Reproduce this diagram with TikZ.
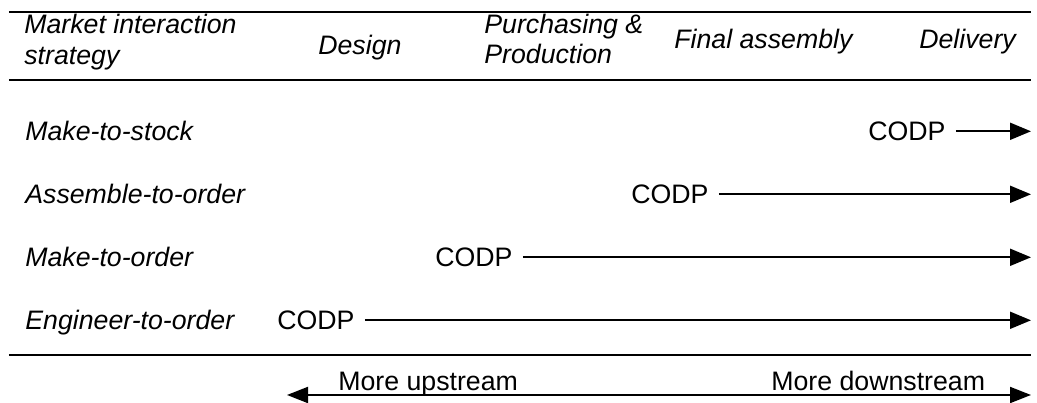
\documentclass[tikz,border=0pt]{standalone}
\usepackage{fontspec}
\setmainfont{Liberation Sans}
\usetikzlibrary{arrows.meta}

\begin{document}
\begin{tikzpicture}[
    every node/.style={inner sep=0pt, font=\fontsize{15.2}{17.6}\selectfont},
    lbl/.style={anchor=base west, align=left, font=\fontsize{15.2}{17.6}\selectfont\itshape},
    codp/.style={anchor=base west},
    rule/.style={line width=1.1pt},
    flow/.style={line width=1.1pt, shorten <=0.2cm, -{Triangle[length=0.42cm, width=0.34cm]}}]
    \useasboundingbox (0,0) rectangle (20.74,8.06);
    % header
    \node[lbl] (mis) at (0.48,6.77) {Market interaction\\strategy};
    \node[lbl] (des) at (6.36,6.97) {Design};
    \node[lbl] (pp) at (9.68,6.78) {Purchasing \&\\Production};
    \node[lbl] (fa) at (13.48,7.09) {Final assembly};
    \node[lbl] (del) at (18.38,7.08) {Delivery};
    % strategies
    \node[lbl] (mts) at (0.50,5.25) {Make-to-stock};
    \node[lbl] (ato) at (0.50,3.99) {Assemble-to-order};
    \node[lbl] (mto) at (0.50,2.73) {Make-to-order};
    \node[lbl] (eto) at (0.50,1.47) {Engineer-to-order};
    \node[codp] (c1) at (17.36,5.25) {CODP};
    \node[codp] (c2) at (12.62,3.99) {CODP};
    \node[codp] (c3) at (8.70,2.73) {CODP};
    \node[codp] (c4) at (5.54,1.47) {CODP};
    \node[codp] (up) at (6.76,0.25) {More upstream};
    \node[codp] (down) at (15.42,0.25) {More downstream};
    \coordinate (l) at (0.18,0);
    \coordinate (r) at (20.62,0);
    \coordinate (ul) at (5.74,0.16);
    \coordinate (ur) at (20.62,0.16);
    % horizontal rules
    \draw[rule] (l |- 0,7.82) -- (r |- 0,7.82);
    \draw[rule] (l |- 0,6.46) -- (r |- 0,6.46);
    \draw[rule] (l |- 0,0.96) -- (r |- 0,0.96);
    % arrows
    \draw[flow] (c1.east) -- (c1.east -| r);
    \draw[flow] (c2.east) -- (c2.east -| r);
    \draw[flow] (c3.east) -- (c3.east -| r);
    \draw[flow] (c4.east) -- (c4.east -| r);
    \draw[line width=1.1pt, {Triangle[length=0.42cm, width=0.32cm]}-{Triangle[length=0.42cm, width=0.32cm]}] (ul) -- (ur);
\end{tikzpicture}
\end{document}
